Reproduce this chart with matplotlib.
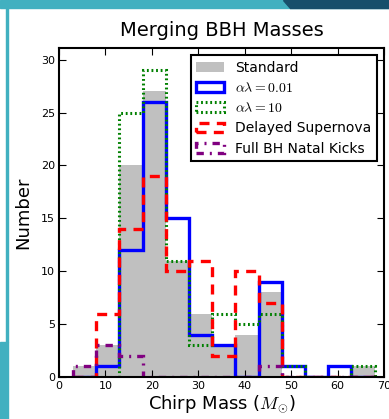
import matplotlib
matplotlib.use("Agg")
import matplotlib.pyplot as plt
import numpy as np
from matplotlib.patches import Polygon, Rectangle

plt.rcParams['mathtext.fontset'] = 'cm'
plt.rcParams['font.family'] = ['DejaVu Sans']

# ---- data ----
edges = [3, 8, 13, 18, 23, 28, 33, 38, 43, 48, 53, 58, 63, 68]
standard = [1, 3, 20, 27, 11, 6, 3, 4, 8, 0, 0, 0, 1]
al_001 = [0, 1, 12, 26, 15, 4, 3, 0, 9, 1, 0, 1, 0]
al_10 = [0, 0, 25, 29, 11, 3, 6, 5, 6, 1, 0, 0, 1]
delayed_sn = [0, 6, 14, 19, 10, 11, 2, 10, 7, 0, 0, 0, 0]
full_kicks = [1, 3, 2, 0, 0, 0, 0, 0, 1, 0, 0, 0, 0]
labels = ['Standard', r'$\alpha\lambda=0.01$', r'$\alpha\lambda=10$',
          'Delayed Supernova', 'Full BH Natal Kicks']
xticks = [0, 10, 20, 30, 40, 50, 60, 70]
yticks = [0, 5, 10, 15, 20, 25, 30]

W, H = 389, 419
fig = plt.figure(figsize=(W / 100, H / 100), dpi=100)

# slide decorations
teal = '#41b0c0'
dark = '#174f6b'
def fx(px):
    return px / W
def fy(py):
    return 1 - py / H
fig.patches.append(Rectangle((0, fy(8)), 1, 8 / H, transform=fig.transFigure,
                             color=teal, zorder=0))
fig.patches.append(Polygon([(fx(283), 1), (1, 1), (1, fy(8)), (fx(290), fy(8))],
                           closed=True, transform=fig.transFigure, color=dark, zorder=0))
fig.patches.append(Rectangle((fx(6), fy(342)), 2 / W, (342 - 8) / H,
                             transform=fig.transFigure, color=teal, zorder=0))
fig.patches.append(Rectangle((0, 0), 8 / W, fy(342), transform=fig.transFigure,
                             color=teal, zorder=0))

ax = fig.add_axes([59 / W, 1 - 377 / H, (384 - 59) / W, (377 - 48) / H])

edges_a = np.array(edges, dtype=float)
centers = (edges_a[:-1] + edges_a[1:]) / 2

ax.hist(centers, bins=edges, weights=standard, histtype='stepfilled',
        color='#c0c0c0', label=labels[0])
ax.hist(centers, bins=edges, weights=al_001, histtype='step',
        color='#0000ff', lw=2.4, label=labels[1])
ax.hist(centers, bins=edges, weights=al_10, histtype='step',
        color='#008000', lw=2.2, ls=(0, (0.6, 0.9)), label=labels[2])
ax.hist(centers, bins=edges, weights=delayed_sn, histtype='step',
        color='#ff0000', lw=2.4, ls=(0, (3, 2.2)), label=labels[3])
ax.hist(centers, bins=edges, weights=full_kicks, histtype='step',
        color='#800080', lw=2.4, ls=(0, (2.2, 1.8, 0.6, 1.8)), label=labels[4])

ax.set_xlim(0, 70)
ax.set_ylim(0, 31.1)
ax.set_xticks(xticks)
ax.set_yticks(yticks)
ax.tick_params(direction='in', top=True, right=True, labelsize=8, length=5,
               width=0.8, pad=3)
for s in ax.spines.values():
    s.set_linewidth(1.5)

ax.set_title('Merging BBH Masses', fontsize=14, pad=9)
ax.set_xlabel(r'Chirp Mass ($M_{\odot}$)', fontsize=13, labelpad=2)
ax.set_ylabel('Number', fontsize=13, labelpad=6)

leg = ax.legend(loc='upper right', fontsize=10, fancybox=False,
                edgecolor='black', framealpha=1, borderaxespad=0.5,
                labelspacing=0.45)
leg.get_frame().set_linewidth(1.5)

fig.savefig('out.png', dpi=100)
